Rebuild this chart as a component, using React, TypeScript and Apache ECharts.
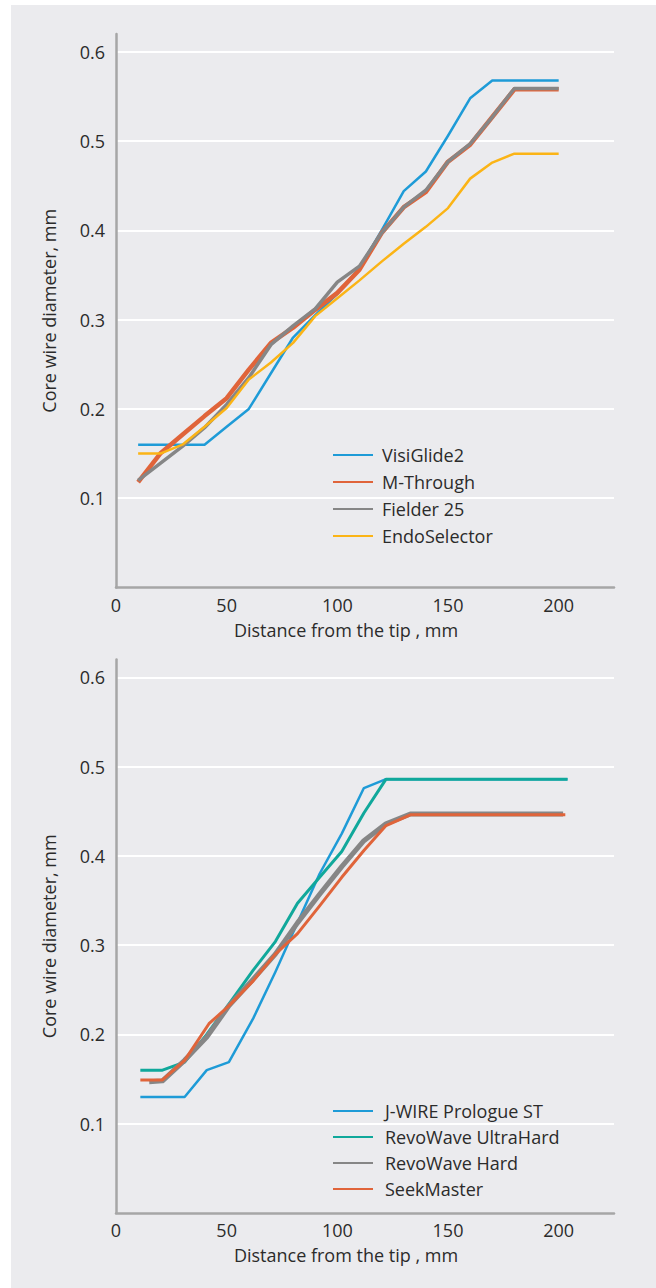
import React, { useEffect, useRef } from "react";
import * as echarts from "echarts";

// ---------- data ----------
const TOP_X = [10, 20, 30, 40, 50, 60, 70, 80, 90, 100, 110, 120, 130, 140, 150, 160, 170, 180, 190, 200];
const VISIGLIDE2 = [0.16, 0.16, 0.16, 0.16, 0.18, 0.2, 0.24, 0.28, 0.305, 0.329, 0.358, 0.4, 0.444, 0.466, 0.506, 0.548, 0.568, 0.568, 0.568, 0.568];
const M_THROUGH = [0.118, 0.15, 0.171, 0.192, 0.212, 0.244, 0.274, 0.291, 0.311, 0.33, 0.356, 0.397, 0.426, 0.443, 0.477, 0.496, 0.527, 0.558, 0.558, 0.558];
const FIELDER25 = [0.12, 0.139, 0.158, 0.179, 0.205, 0.235, 0.272, 0.293, 0.312, 0.342, 0.36, 0.397, 0.426, 0.445, 0.477, 0.497, 0.527, 0.559, 0.559, 0.559];
const ENDOSELECTOR = [0.15, 0.15, 0.16, 0.18, 0.201, 0.233, 0.252, 0.274, 0.304, 0.324, 0.344, 0.365, 0.385, 0.404, 0.425, 0.458, 0.476, 0.486, 0.486, 0.486];

const BOTTOM_X = [11, 21, 31, 41, 51, 62, 72, 82, 92, 102, 112, 122, 133, 143, 153, 163, 173, 183, 193, 204];
const JWIRE = [0.13, 0.13, 0.13, 0.16, 0.169, 0.218, 0.27, 0.325, 0.38, 0.425, 0.476, 0.486, 0.486, 0.486, 0.486, 0.486, 0.486, 0.486, 0.486, 0.486];
const ULTRAHARD = [0.16, 0.16, 0.169, 0.2, 0.234, 0.272, 0.304, 0.347, 0.376, 0.405, 0.448, 0.486, 0.486, 0.486, 0.486, 0.486, 0.486, 0.486, 0.486, 0.486];
const HARD_X = [15, 21, 31, 41, 51, 62, 72, 82, 92, 102, 112, 122, 133, 143, 153, 163, 173, 183, 193, 202];
const HARD = [0.147, 0.148, 0.171, 0.197, 0.232, 0.262, 0.29, 0.325, 0.357, 0.388, 0.417, 0.436, 0.447, 0.447, 0.447, 0.447, 0.447, 0.447, 0.447, 0.447];
const SEEK_X = [11, 21, 31, 42, 51, 62, 72, 82, 92, 102, 112, 122, 133, 143, 153, 163, 173, 183, 193, 203];
const SEEKMASTER = [0.149, 0.149, 0.171, 0.212, 0.232, 0.26, 0.29, 0.313, 0.344, 0.376, 0.406, 0.434, 0.446, 0.446, 0.446, 0.446, 0.446, 0.446, 0.446, 0.446];

const TOP_NAMES = ["VisiGlide2", "M-Through", "Fielder 25", "EndoSelector"];
const BOTTOM_NAMES = ["J-WIRE Prologue ST", "RevoWave UltraHard", "RevoWave Hard", "SeekMaster"];

const X_NAME = "Distance from the tip , mm";
const Y_NAME = "Core wire diameter, mm";

const BLUE = "#1e9bd7";
const ORANGE = "#e0643a";
const GRAY = "#868686";
const YELLOW = "#fbb416";
const TEAL = "#10a89b";
const TEXT = "#2b2b2b";
const AXIS = "#a6a6a6";
const FONT = '"Open Sans", "Noto Sans", sans-serif';

function pairs(xs: number[], ys: number[]) {
  return xs.map((x, i) => [x, ys[i]]);
}

export default function App() {
  const ref = useRef<HTMLDivElement>(null);

  useEffect(() => {
    if (!ref.current) return;
    const chart = echarts.init(ref.current, null, { renderer: "svg" });

    const xAxis = [0, 1].map((i) => ({
      type: "value",
      gridIndex: i,
      min: 0,
      max: 225,
      interval: 50,
      name: X_NAME,
      nameLocation: "middle",
      nameGap: 33,
      nameTextStyle: { fontSize: 18, color: TEXT, fontFamily: FONT, padding: [0, 38, 0, 0] },
      axisLine: { show: true, onZero: false, lineStyle: { color: AXIS, width: 2.5 } },
      axisTick: { show: false },
      splitLine: { show: false },
      axisLabel: { fontSize: 18, color: TEXT, fontFamily: FONT, margin: 8, showMaxLabel: false },
    }));

    const yAxis = [0, 1].map((i) => ({
      type: "value",
      gridIndex: i,
      min: 0,
      max: 0.62,
      interval: 0.1,
      name: Y_NAME,
      nameLocation: "middle",
      nameGap: 58,
      nameTextStyle: { fontSize: 18, color: TEXT, fontFamily: FONT },
      axisLine: { show: true, lineStyle: { color: AXIS, width: 2.5 } },
      axisTick: { show: false },
      splitLine: { show: true, showMinLine: false, showMaxLine: false, lineStyle: { color: "#ffffff", width: 2 } },
      axisLabel: {
        fontSize: 18,
        color: TEXT,
        fontFamily: FONT,
        margin: 11,
        showMinLabel: false,
        showMaxLabel: false,
        formatter: (v: number) => v.toFixed(1),
      },
    }));

    const line = (name: string, idx: number, data: number[][], color: string, width: number) => ({
      type: "line",
      name,
      xAxisIndex: idx,
      yAxisIndex: idx,
      data,
      symbol: "none",
      showSymbol: false,
      silent: true,
      lineStyle: { color, width, cap: "butt", join: "round" },
      itemStyle: { color },
      emphasis: { disabled: true },
    });

    const legendBase = {
      orient: "vertical",
      left: 321,
      itemWidth: 40,
      itemHeight: 14,
      padding: 0,
      selectedMode: false,
      itemStyle: { opacity: 0 },
      textStyle: { fontSize: 18, color: TEXT, fontFamily: FONT, lineHeight: 20, padding: [0, 0, 0, 4] },
    };

    chart.setOption({
      animation: false,
      textStyle: { fontFamily: FONT },
      grid: [
        { left: 105, top: 29, width: 498, height: 553.5 },
        { left: 105, top: 654.5, width: 498, height: 553.5 },
      ],
      xAxis,
      yAxis,
      legend: [
        { ...legendBase, top: 440, itemGap: 7, data: TOP_NAMES },
        { ...legendBase, top: 1096, itemGap: 6, textStyle: { ...legendBase.textStyle, padding: [0, 0, 0, 7] }, data: BOTTOM_NAMES },
      ],
      series: [
        line(TOP_NAMES[0], 0, pairs(TOP_X, VISIGLIDE2), BLUE, 2.5),
        line(TOP_NAMES[1], 0, pairs(TOP_X, M_THROUGH), ORANGE, 4.5),
        line(TOP_NAMES[2], 0, pairs(TOP_X, FIELDER25), GRAY, 3.5),
        line(TOP_NAMES[3], 0, pairs(TOP_X, ENDOSELECTOR), YELLOW, 2.5),
        line(BOTTOM_NAMES[0], 1, pairs(BOTTOM_X, JWIRE), BLUE, 2.5),
        line(BOTTOM_NAMES[1], 1, pairs(BOTTOM_X, ULTRAHARD), TEAL, 3),
        line(BOTTOM_NAMES[2], 1, pairs(HARD_X, HARD), GRAY, 5),
        line(BOTTOM_NAMES[3], 1, pairs(SEEK_X, SEEKMASTER), ORANGE, 3),
      ],
    });

    return () => chart.dispose();
  }, []);

  return (
    <div
      style={{
        position: "absolute",
        left: 11,
        top: 5,
        width: 645,
        height: 1283,
        background: "#ebebee",
      }}
    >
      <div ref={ref} style={{ width: 645, height: 1283 }} />
    </div>
  );
}
